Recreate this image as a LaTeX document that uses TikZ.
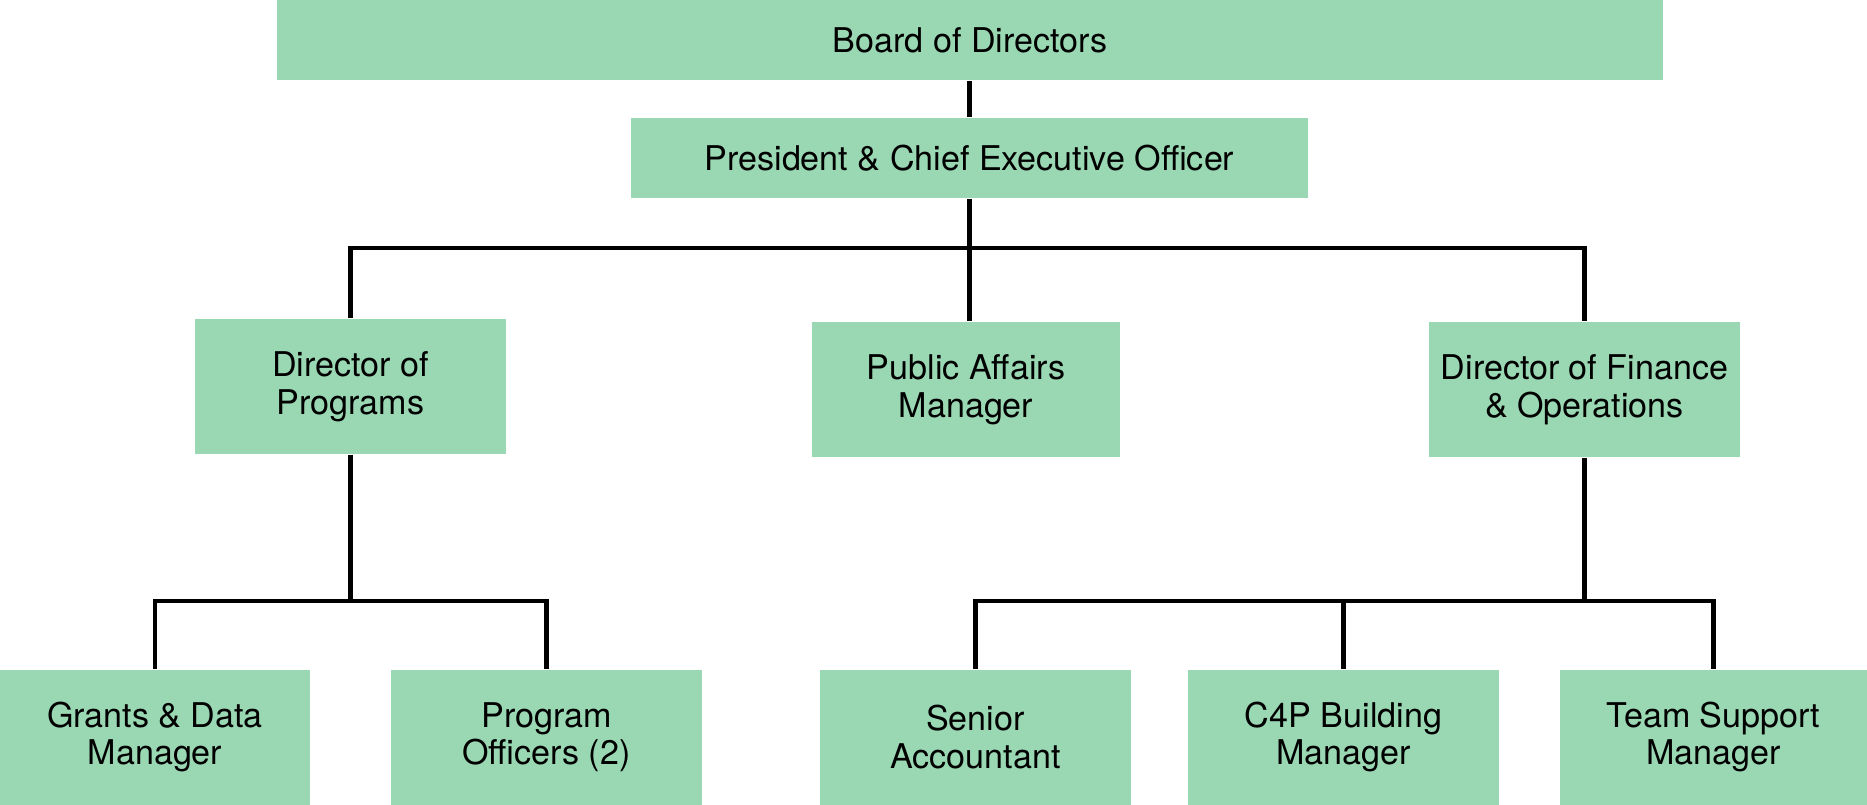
\documentclass[tikz,border=0pt]{standalone}
\usepackage{fontspec}
\setmainfont{TeX Gyre Heros}
\usetikzlibrary{positioning,calc}
\definecolor{postgreen}{HTML}{9AD7B3}
\tikzset{
  post/.style = {rectangle, fill=postgreen, inner sep=0pt, minimum height=1.35cm,
                 align=center, font=\fontsize{9.7}{10.7}\selectfont},
  head/.style = {post, minimum height=0.8cm},
  link/.style = {draw=black, line width=1.15pt, line join=miter}
}
\newcommand{\DrawPost}[4]{%
  % one post of the chart: name, centre, width, title
  \node[post, minimum width=#3] (#1) at #2 {#4};
}

\begin{document}
\begin{tikzpicture}
    \useasboundingbox (0,0) rectangle (18.67,-8.04);

    % top of the chart
    \node[head, minimum width=13.86cm] (board) at (9.70,-0.40) {Board of Directors};
    \node[head, minimum width=6.77cm]  (ceo)   at (9.695,-1.58) {President \& Chief Executive Officer};

    % second row
    \DrawPost{dprog}{(3.505,-3.865)}{3.11cm}{Director of\\Programs}
    \DrawPost{pub}{(9.66,-3.895)}{3.08cm}{Public Affairs\\Manager}
    \DrawPost{dfin}{(15.845,-3.895)}{3.11cm}{Director of Finance\\\& Operations}

    % third row
    \DrawPost{grants}{(1.55,-7.37)}{3.10cm}{Grants \& Data\\Manager}
    \DrawPost{offic}{(5.465,-7.37)}{3.11cm}{Program\\Officers (2)}
    \DrawPost{senior}{(9.755,-7.37)}{3.11cm}{Senior\\Accountant}
    \DrawPost{cfp}{(13.435,-7.37)}{3.11cm}{C4P Building\\Manager}
    \DrawPost{team}{(17.135,-7.37)}{3.07cm}{Team Support\\Manager}

    % rails the branches hang from
    \coordinate (bus1) at (0,-2.48);
    \coordinate (bus2) at (0,-6.01);

    \draw[link] (ceo.north) -- (ceo.north |- board.south);
    \draw[link] (ceo) -- (ceo.south |- pub.north);
    \draw[link] (dprog) -- (dprog |- bus1) -- (dfin |- bus1) -- (dfin);

    \draw[link] (dprog) -- (dprog |- bus2);
    \draw[link] (grants) -- (grants |- bus2) -- (offic |- bus2) -- (offic);

    \draw[link] (dfin) -- (dfin |- bus2);
    \draw[link] (senior) -- (senior |- bus2) -- (team |- bus2) -- (team);
    \draw[link] (cfp) -- (cfp |- bus2);
\end{tikzpicture}
\end{document}
